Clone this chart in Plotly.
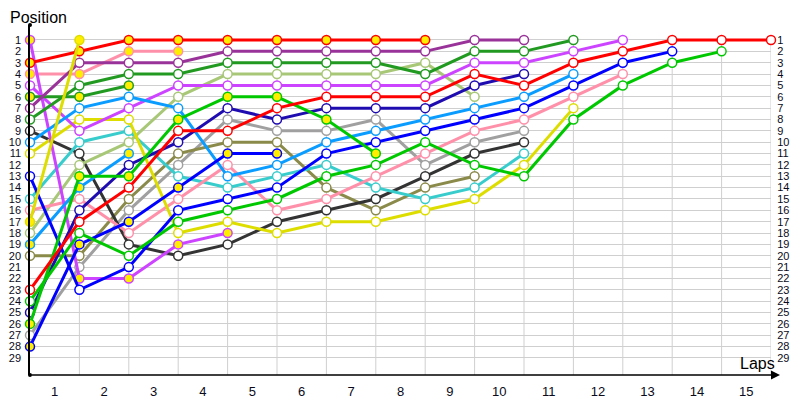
import plotly.graph_objects as go

# ---- data -------------------------------------------------------------
laps = list(range(16))                      # lap 0 (start) .. lap 15
lap_labels = [str(i) for i in range(1, 16)]
positions = list(range(1, 30))

# positions per lap, starting at lap 0
red_a = [3, 2, 1, 1, 1, 1, 1, 1, 1]
red_b = [23, 17, 14, 9, 9, 7, 6, 6, 6, 4, 5, 3, 2, 1, 1, 1]
pink_a = [4, 4, 2, 2]
pink_b = [16, 15, 18, 15, 12, 16, 15, 13, 11, 9, 8, 6, 4]
violet_a = [1, 22, 22, 19, 18]
violet_b = [5, 9, 7, 5, 5, 5, 5, 5, 5, 3, 3, 2, 1]
dkgreen_a = [6, 6, 5]
dkgreen_b = [8, 5, 4, 4, 3, 3, 3, 3, 4, 2, 2, 1]
purple = [7, 3, 3, 3, 2, 2, 2, 2, 2, 1, 1]
black = [9, 11, 19, 20, 19, 17, 16, 15, 13, 11, 10]
ltblue_a = [10, 7, 6, 7, 13, 12, 10, 9, 8, 7, 6, 4]
ltblue_b = [19, 14, 11]
yellow_a = [11, 8, 8, 18, 17, 18, 17, 17, 16, 15, 12, 7]
yellow_b = [17, 1]
blue_a = [13, 23, 21, 16, 15, 14, 11, 10, 9, 8, 7, 5, 3, 2]
blue_b = [28, 19, 17, 14, 11, 11]
dkblue = [25, 16, 12, 10, 7, 8, 7, 7, 7, 5, 4]
cyan = [15, 10, 9, 13, 14, 13, 12, 14, 15, 14, 11]
ygreen = [18, 12, 10, 6, 4, 4, 4, 4, 3, 6]
olive = [20, 20, 15, 11, 10, 10, 14, 16, 14, 13]
green_a = [24, 18, 20, 17, 16, 15, 13, 12, 10, 12, 13, 8, 5, 3, 2]
green_b = [26, 13, 13, 8, 6, 6, 8, 11]
gray = [27, 21, 16, 12, 8, 9, 9, 8, 12, 10, 9]

# ---- styles ---------------------------------------------------------------
WHITE = "#ffffff"
YEL = "#ffee00"
series = [
    (gray, "#a0a0a0", WHITE),
    (olive, "#8a8a4a", WHITE),
    (black, "#333333", WHITE),
    (cyan, "#38cccc", WHITE),
    (ygreen, "#a8c878", WHITE),
    (pink_b, "#ff90aa", WHITE),
    (pink_a, "#ff90aa", YEL),
    (yellow_a, "#dddd00", WHITE),
    (violet_a, "#cc44ff", YEL),
    (violet_b, "#cc44ff", WHITE),
    (ltblue_a, "#0a9cff", WHITE),
    (ltblue_b, "#0a9cff", YEL),
    (dkblue, "#1f0cb0", WHITE),
    (blue_a, "#0000ff", WHITE),
    (blue_b, "#0000ff", YEL),
    (green_a, "#00c800", WHITE),
    (green_b, "#00c800", YEL),
    (dkgreen_a, "#229a22", YEL),
    (dkgreen_b, "#229a22", WHITE),
    (purple, "#993399", WHITE),
    (red_b, "#ff0000", WHITE),
    (red_a, "#ff0000", YEL),
    (yellow_b, "#dddd00", YEL),
]

FONT = "Liberation Sans, Arial, sans-serif"
GRID = "#cfcfcf"

fig = go.Figure()
for pos_list, color, fill in series:
    fig.add_trace(go.Scatter(
        x=laps[:len(pos_list)], y=pos_list, mode="lines+markers",
        line=dict(color=color, width=3),
        marker=dict(size=9, color=fill, line=dict(color=color, width=1.5)),
        cliponaxis=False, showlegend=False, hoverinfo="skip",
    ))

# invisible trace so the right-hand position axis is drawn
fig.add_trace(go.Scatter(
    x=[laps[-1]] * len(positions), y=positions, yaxis="y2", mode="markers",
    marker=dict(opacity=0), showlegend=False, hoverinfo="skip",
))

# page has an 8px body margin: figure is 792x392, drawn from (8, 8)
OFF = 8
W, H = 800 - OFF, 400 - OFF
Y_RANGE = [30.5, -0.32]
L, R, T, B = 30 - OFF, 29, 25 - OFF, 25
PW = W - L - R
PH = H - T - B

shapes = []
for lap in laps[1:]:
    shapes.append(dict(type="line", xref="x", yref="y", x0=lap, x1=lap,
                       y0=positions[0], y1=Y_RANGE[0],
                       line=dict(color=GRID, width=1), layer="below"))
# axis end dots
for (px, py) in [(0, 1), (0, 0)]:
    shapes.append(dict(type="circle", xref="paper", yref="paper",
                       x0=px - 2 / PW, x1=px + 2 / PW,
                       y0=py - 2 / PH, y1=py + 2 / PH,
                       fillcolor="black", line=dict(color="black", width=0)))

annotations = [
    dict(text="Position", xref="paper", yref="paper", x=0, y=1,
         xshift=-L, yshift=-3, xanchor="left", yanchor="bottom",
         showarrow=False, font=dict(family=FONT, size=16, color="#000")),
    dict(text="Laps", xref="paper", yref="paper", x=(777 - 30) / PW, y=0,
         xanchor="right", yanchor="bottom", yshift=1,
         showarrow=False, font=dict(family=FONT, size=16, color="#000")),
    dict(text="", xref="paper", yref="paper", x=(780 - 30) / PW, y=0,
         ax=-(780 - 30), ay=0, showarrow=True, arrowhead=2, arrowsize=1.2,
         arrowwidth=1.5, arrowcolor="black", standoff=0),
]

fig.update_layout(
    width=W, height=H,
    margin=dict(l=L, r=R, t=T, b=B, autoexpand=False),
    plot_bgcolor="white", paper_bgcolor="white",
    font=dict(family=FONT, size=12, color="#0a0a1a"),
    xaxis=dict(range=[laps[0], laps[-1]], automargin=False,
               tickvals=[l + 0.5 for l in laps[:-1]], ticktext=lap_labels,
               showgrid=False, zeroline=False, showline=False,
               ticks="outside", ticklen=4, tickcolor="rgba(0,0,0,0)",
               tickfont=dict(size=13)),
    yaxis=dict(range=Y_RANGE, tickvals=positions, automargin=False,
               ticktext=[str(p) for p in positions],
               showgrid=True, gridcolor=GRID, gridwidth=1, zeroline=False,
               showline=True, linecolor="black", linewidth=1.5,
               ticks="outside", ticklen=5, tickcolor="rgba(0,0,0,0)",
               tickfont=dict(size=11)),
    yaxis2=dict(range=Y_RANGE, tickvals=positions, automargin=False,
                ticktext=[str(p) for p in positions],
                overlaying="y", side="right", showgrid=False, zeroline=False,
                showline=False, ticks="outside", ticklen=3,
                tickcolor="rgba(0,0,0,0)", tickfont=dict(size=11)),
    shapes=shapes, annotations=annotations,
)

fig.write_html("out.html")
